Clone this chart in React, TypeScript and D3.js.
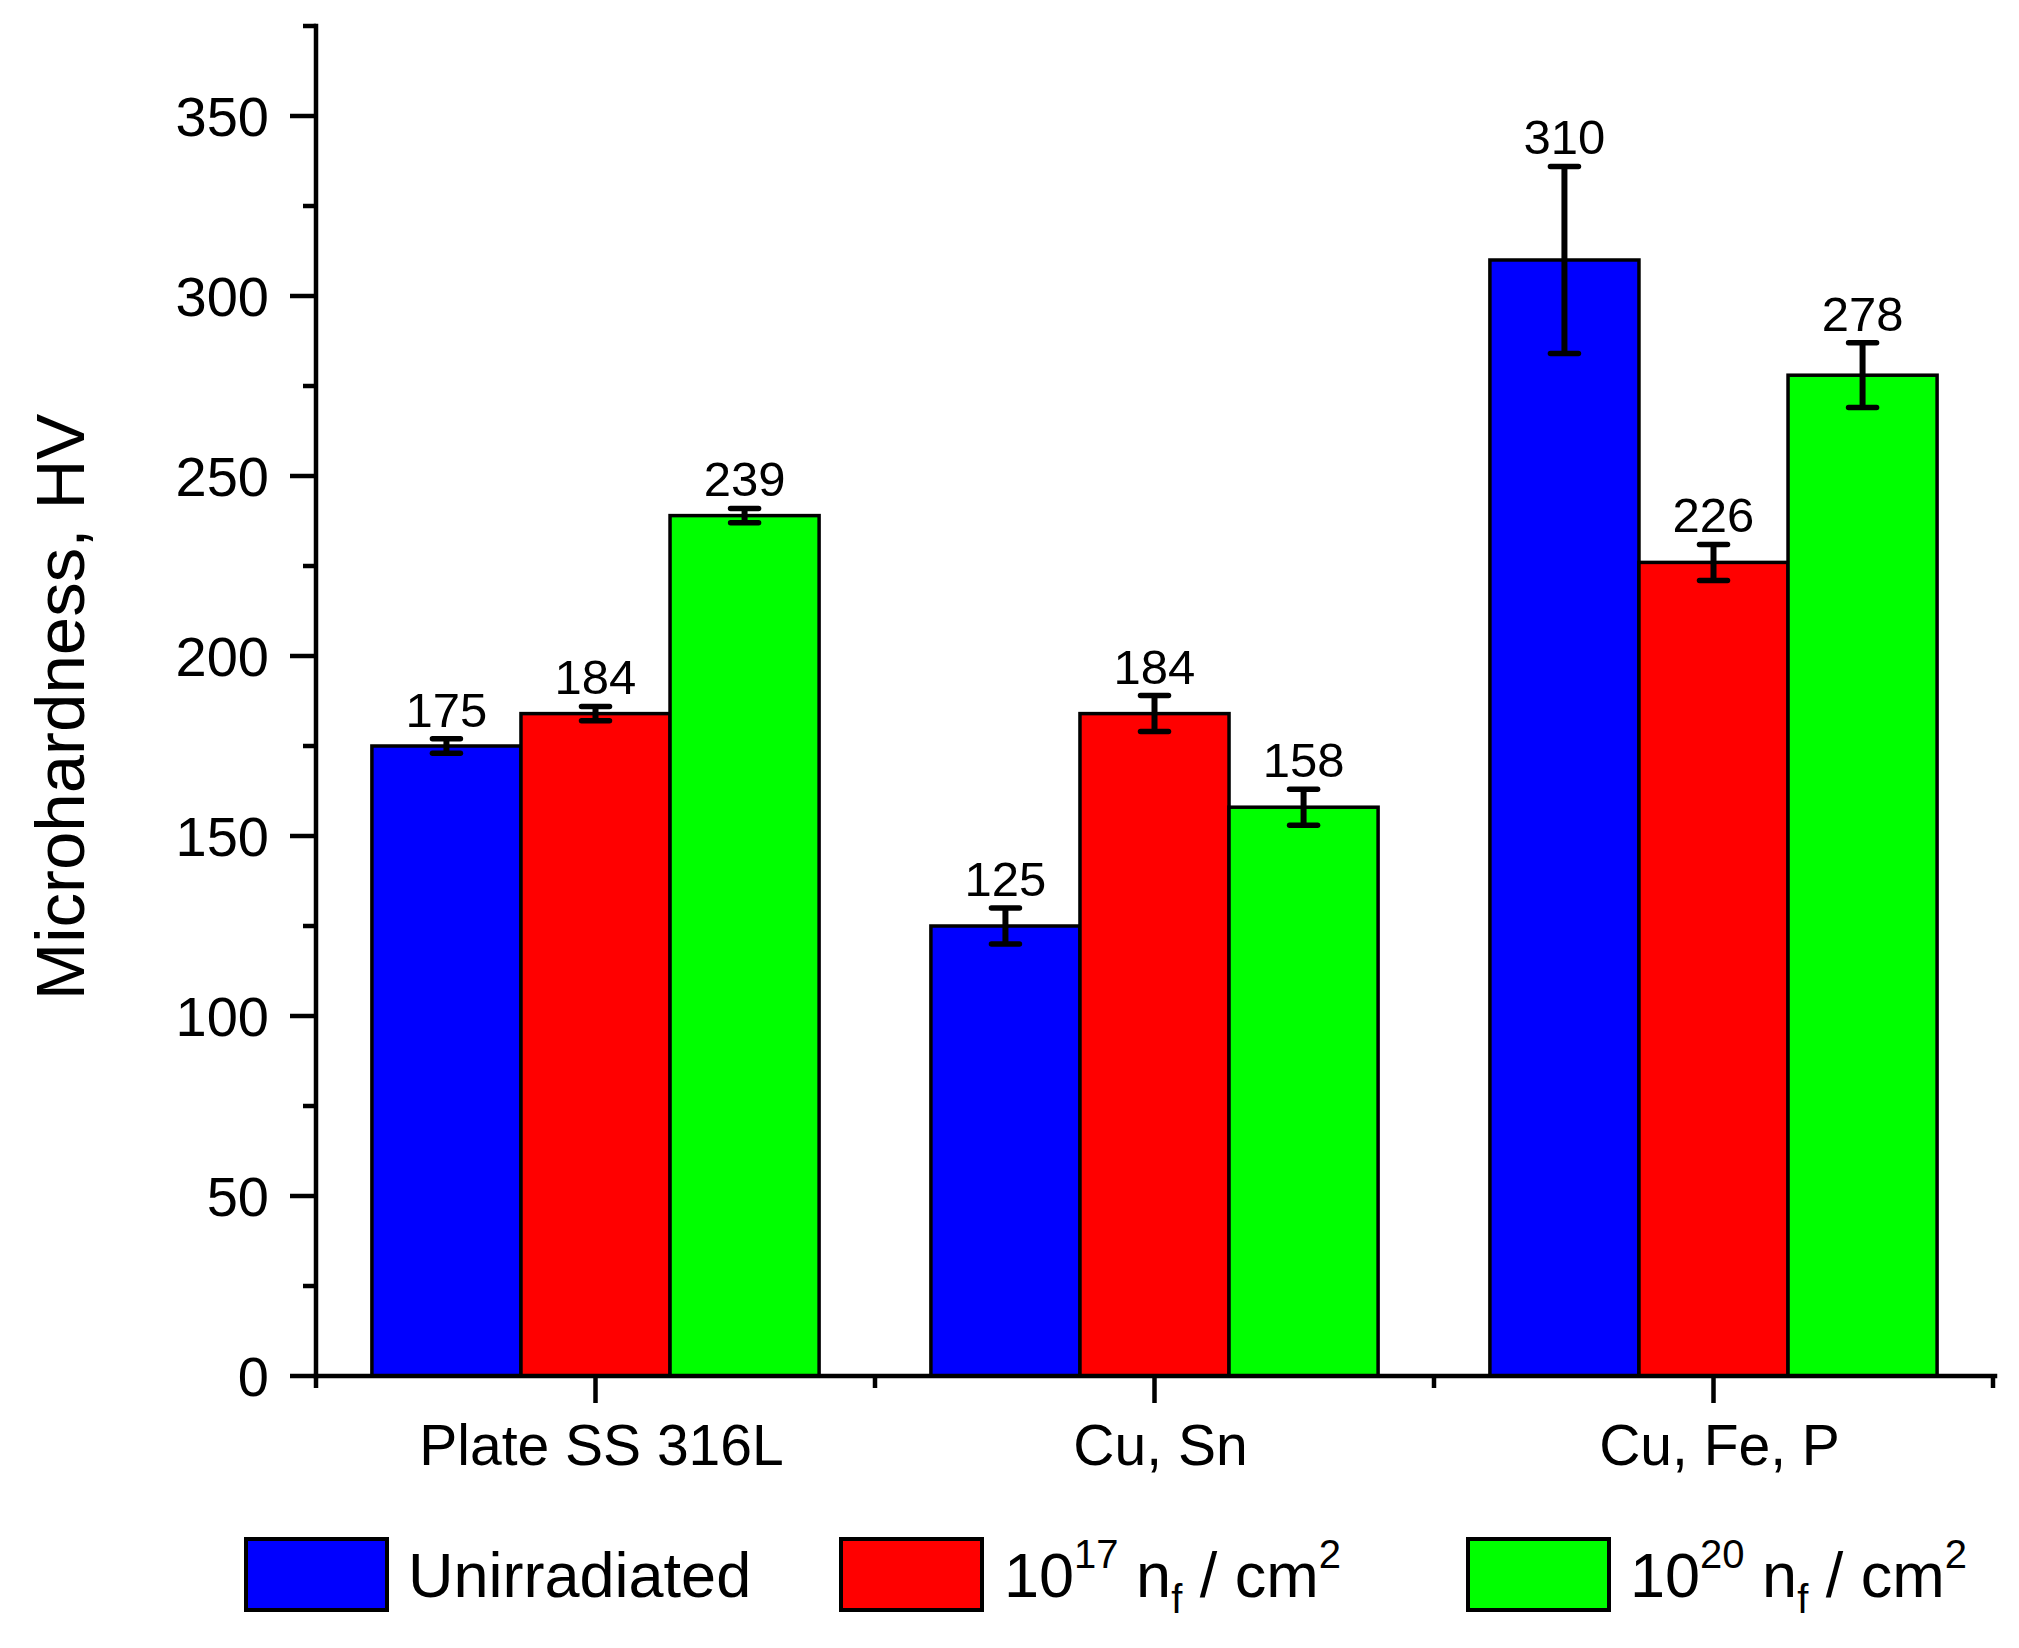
import React from "react";
import * as d3 from "d3";

const categories = ["Plate SS 316L", "Cu, Sn", "Cu, Fe, P"];
const seriesKeys = ["Unirradiated", "1e17", "1e20"];
const unirradiated = [175, 125, 310];
const unirradiatedErr = [2, 5, 26];
const flux17 = [184, 184, 226];
const flux17Err = [2, 5, 5];
const flux20 = [239, 158, 278];
const flux20Err = [2, 5, 9];
const majorTicks = [0, 50, 100, 150, 200, 250, 300, 350];
const minorTicks = [25, 75, 125, 175, 225, 275, 325, 375];

const colors = ["#0000FF", "#FF0000", "#00FF00"];
const FONT = "'Liberation Sans', Arial, Helvetica, sans-serif";

export default function App() {
  const W = 2019;
  const H = 1648;
  const x0 = 316;
  const x1 = 1993;
  const yTop = 26;
  const yBot = 1376;

  const xBand = d3.scaleBand<string>().domain(categories).range([x0, x1]).paddingInner(0).paddingOuter(0);
  const bw = xBand.bandwidth();
  const xSeries = d3.scaleBand<string>().domain(seriesKeys).range([bw * 0.1, bw * 0.9]).padding(0);
  const y = d3.scaleLinear().domain([0, 375]).range([yBot, yTop]);

  const values = [unirradiated, flux17, flux20];
  const errs = [unirradiatedErr, flux17Err, flux20Err];

  const lw = 4.5;

  const legendItems = [
    { box: 246, text: 408, color: colors[0], label: "Unirradiated", sup: null as string | null },
    { box: 841, text: 1004, color: colors[1], label: "10", sup: "17" },
    { box: 1468, text: 1630, color: colors[2], label: "10", sup: "20" },
  ];

  return (
    <svg
      width={W}
      height={H}
      viewBox={`0 0 ${W} ${H}`}
      style={{ position: "absolute", left: 0, top: 0, background: "#fff" }}
      fontFamily={FONT}
    >
      <rect x={0} y={0} width={W} height={H} fill="#fff" />

      {/* bars */}
      {categories.map((c, ci) => (
        <g key={c}>
          {seriesKeys.map((s, si) => {
            const v = values[si][ci];
            const bx = (xBand(c) as number) + (xSeries(s) as number);
            const w = xSeries.bandwidth();
            return (
              <rect
                key={s}
                x={bx}
                y={y(v)}
                width={w}
                height={y(0) - y(v)}
                fill={colors[si]}
                stroke="#000"
                strokeWidth={3.5}
              />
            );
          })}
        </g>
      ))}

      {/* error bars and value labels */}
      {categories.map((c, ci) => (
        <g key={c + "-err"}>
          {seriesKeys.map((s, si) => {
            const v = values[si][ci];
            const e = errs[si][ci];
            const cx = (xBand(c) as number) + (xSeries(s) as number) + xSeries.bandwidth() / 2;
            const yt = y(v + e);
            const yb = y(v - e);
            const capW = 28;
            return (
              <g key={s}>
                <line x1={cx} x2={cx} y1={yt} y2={yb} stroke="#000" strokeWidth={6} />
                <line x1={cx - capW / 2} x2={cx + capW / 2} y1={yt} y2={yt} stroke="#000" strokeWidth={5.5} strokeLinecap="round" />
                <line x1={cx - capW / 2} x2={cx + capW / 2} y1={yb} y2={yb} stroke="#000" strokeWidth={5.5} strokeLinecap="round" />
                <text x={cx} y={yt - 12} textAnchor="middle" fontSize={49} fill="#000">
                  {v}
                </text>
              </g>
            );
          })}
        </g>
      ))}

      {/* y axis */}
      <line x1={x0} x2={x0} y1={yTop} y2={yBot} stroke="#000" strokeWidth={lw} strokeLinecap="square" />
      {majorTicks.map((t) => (
        <g key={"mj" + t}>
          <line x1={x0 - 26} x2={x0} y1={y(t)} y2={y(t)} stroke="#000" strokeWidth={lw} />
          <text x={269} y={y(t) + 20} textAnchor="end" fontSize={56} fill="#000">
            {t}
          </text>
        </g>
      ))}
      {minorTicks.map((t) => (
        <line key={"mn" + t} x1={x0 - 13} x2={x0} y1={y(t)} y2={y(t)} stroke="#000" strokeWidth={lw} />
      ))}

      {/* x axis */}
      <line x1={x0} x2={x1 + 2} y1={yBot} y2={yBot} stroke="#000" strokeWidth={lw} strokeLinecap="square" />
      {categories.map((c) => {
        const cx = (xBand(c) as number) + bw / 2;
        return (
          <g key={"xt" + c}>
            <line x1={cx} x2={cx} y1={yBot} y2={yBot + 27} stroke="#000" strokeWidth={lw} />
            <text x={cx + 6} y={1465} textAnchor="middle" fontSize={57} fill="#000">
              {c}
            </text>
          </g>
        );
      })}
      {[...categories.map((c) => xBand(c) as number), x1].map((bx, i) => (
        <line key={"xm" + i} x1={bx} x2={bx} y1={yBot} y2={yBot + 12} stroke="#000" strokeWidth={lw} />
      ))}

      {/* y axis title */}
      <text
        transform={`translate(84, 707) rotate(-90)`}
        textAnchor="middle"
        fontSize={69}
        fill="#000"
      >
        Microhardness, HV
      </text>

      {/* legend */}
      {legendItems.map((it, i) => (
        <g key={"lg" + i}>
          <rect x={it.box} y={1539} width={141} height={71} fill={it.color} stroke="#000" strokeWidth={4} />
          {it.sup === null ? (
            <text x={it.text} y={1597} fontSize={63} fill="#000">
              {it.label}
            </text>
          ) : (
            <text x={it.text} y={1597} fontSize={63} fill="#000">
              <tspan>{it.label}</tspan>
              <tspan fontSize={40} dy={-29}>{it.sup}</tspan>
              <tspan dy={29}>{" n"}</tspan>
              <tspan fontSize={40} dy={16}>f</tspan>
              <tspan dy={-16}>{" / cm"}</tspan>
              <tspan fontSize={40} dy={-29}>2</tspan>
            </text>
          )}
        </g>
      ))}
    </svg>
  );
}
